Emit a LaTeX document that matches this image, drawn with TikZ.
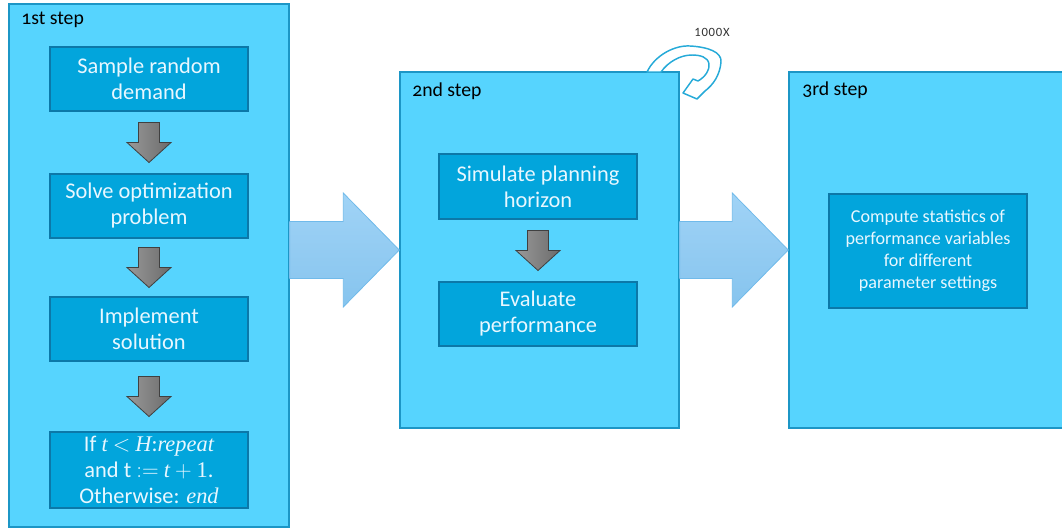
\documentclass[tikz,border=0pt]{standalone}
\usepackage{fontspec}
\setmainfont{Carlito}[Numbers=OldStyle]
\newfontfamily\mathlike{Liberation Serif}
\usetikzlibrary{calc}
\definecolor{stepfill}{RGB}{86,212,254}
\definecolor{stepline}{RGB}{28,150,198}
\definecolor{taskfill}{RGB}{2,165,220}
\definecolor{taskline}{RGB}{12,120,168}
\definecolor{tasktext}{RGB}{232,247,255}
\definecolor{flowtop}{RGB}{160,211,246}
\definecolor{flowbot}{RGB}{134,196,238}
\definecolor{flowline}{RGB}{112,186,234}
\definecolor{loopline}{RGB}{38,170,216}
\tikzset{
  stepbox/.style={draw=stepline, fill=stepfill, line width=1.1pt, inner sep=0pt},
  taskbox/.style={draw=taskline, fill=taskfill, line width=0.9pt, inner sep=0pt,
    text=tasktext, align=center, font=\fontsize{16.8}{19.5}\selectfont},
  steplabel/.style={anchor=west, inner sep=0pt, font=\fontsize{14.8}{16}\selectfont},
  downarrow/.style={draw=black!75, left color=black!40, right color=black!58,
    line width=0.6pt, line join=miter},
  flowarrow/.style={draw=flowline, top color=flowtop, bottom color=flowbot,
    line width=0.6pt},
  looparrow/.style={draw=loopline, fill=white, line width=1.1pt, line join=round},
}
% grey block arrow pointing down, centred in the gap between two boxes
\newcommand\downblock[2]{%
  \path[downarrow] let \p1=($(#1.south)!0.5!(#2.north)$) in
    (\x1-7.9pt,\y1+15pt) -- (\x1+7.9pt,\y1+15pt) -- (\x1+7.9pt,\y1)
    -- (\x1+16.5pt,\y1) -- (\x1,\y1-15pt) -- (\x1-16.5pt,\y1)
    -- (\x1-7.9pt,\y1) -- cycle;}
% wide block arrow from the right side of one stage to the left side of the next
\newcommand\rightblock[2]{%
  \path[flowarrow] let \p1=(#1.east), \p2=(#2.west) in
    (\x1,\y2+21.4pt) -- (\x2-42pt,\y2+21.4pt) -- (\x2-42pt,\y2+42.75pt)
    -- (\x2,\y2) -- (\x2-42pt,\y2-42.75pt) -- (\x2-42pt,\y2-21.4pt)
    -- (\x1,\y2-21.4pt) -- cycle;}
\begin{document}
\begin{tikzpicture}[x=0.75pt, y=-0.75pt]
\useasboundingbox (0,0) rectangle (1062,529);
\clip (0,0) rectangle (1062,529);

% the three stages
\node[stepbox, minimum width={280*0.75pt}, minimum height={523*0.75pt}] (s1) at (149,265.5) {};
\node[stepbox, minimum width={279*0.75pt}, minimum height={356*0.75pt}] (s2) at (539.5,250) {};
\node[stepbox, minimum width={277*0.75pt}, minimum height={356*0.75pt}] (s3) at (927.5,250) {};

\node[steplabel] (l1) at (21,19.5) {1st step};
\node[steplabel] (l2) at (412,91) {2nd step};
\node[steplabel] (l3) at (802,90) {3rd step};

% first stage tasks
\node[taskbox, minimum width={198*0.75pt}, minimum height={64*0.75pt}] (a1) at (149,79)
  {Sample random\\demand};
\node[taskbox, minimum width={198*0.75pt}, minimum height={64*0.75pt}] (a2) at (149,206)
  {Solve optimization\\problem};
\node[taskbox, minimum width={198*0.75pt}, minimum height={64*0.75pt}] (a3) at (149,329)
  {Implement\\solution};
\node[taskbox, minimum width={198*0.75pt}, minimum height={76*0.75pt}] (a4) at (149,470)
  {If {\mathlike\itshape t} $<$ {\mathlike\itshape H}:{\mathlike\itshape repeat}\\
   and t $:=$ {\mathlike\itshape t} $+$ {\mathlike 1}.\\
   Otherwise: {\mathlike\itshape end}};

\downblock{a1}{a2}
\downblock{a2}{a3}
\downblock{a3}{a4}

% second stage tasks
\node[taskbox, minimum width={198*0.75pt}, minimum height={65*0.75pt}] (b1) at (538,186.5)
  {Simulate planning\\horizon};
\node[taskbox, minimum width={198*0.75pt}, minimum height={64*0.75pt}] (b2) at (538,314)
  {Evaluate\\performance};
\downblock{b1}{b2}

% third stage task
\node[taskbox, minimum width={198*0.75pt}, minimum height={114*0.75pt},
  font=\fontsize{13.6}{16.5}\selectfont] (c1) at (928,251)
  {Compute statistics of\\performance variables\\for different\\parameter settings};

% flow between stages
\rightblock{s1}{s2}
\rightblock{s2}{s3}

% repetition loop over the second stage
\coordinate (tailL) at (647,72);
\coordinate (tailR) at (661,72);
\draw[looparrow] (tailL) .. controls (655,55) and (675,45) .. (690,46)
  .. controls (708,47) and (722,52) .. (721,62)
  .. controls (720,75) and (713,85) .. (705,91) -- (697,99) -- (683,93)
  -- (693,79) -- (698,81) .. controls (705,77) and (710,70) .. (709,64)
  .. controls (708,57) and (700,55) .. (692,55)
  .. controls (680,55) and (668,62) .. (tailR) -- cycle;
\node[inner sep=0pt, text=black!80, font=\addfontfeatures{Numbers=Lining,LetterSpace=6}\fontsize{9.5}{11}\selectfont] (rep) at (712,32) {1000X};
\end{tikzpicture}
\end{document}
